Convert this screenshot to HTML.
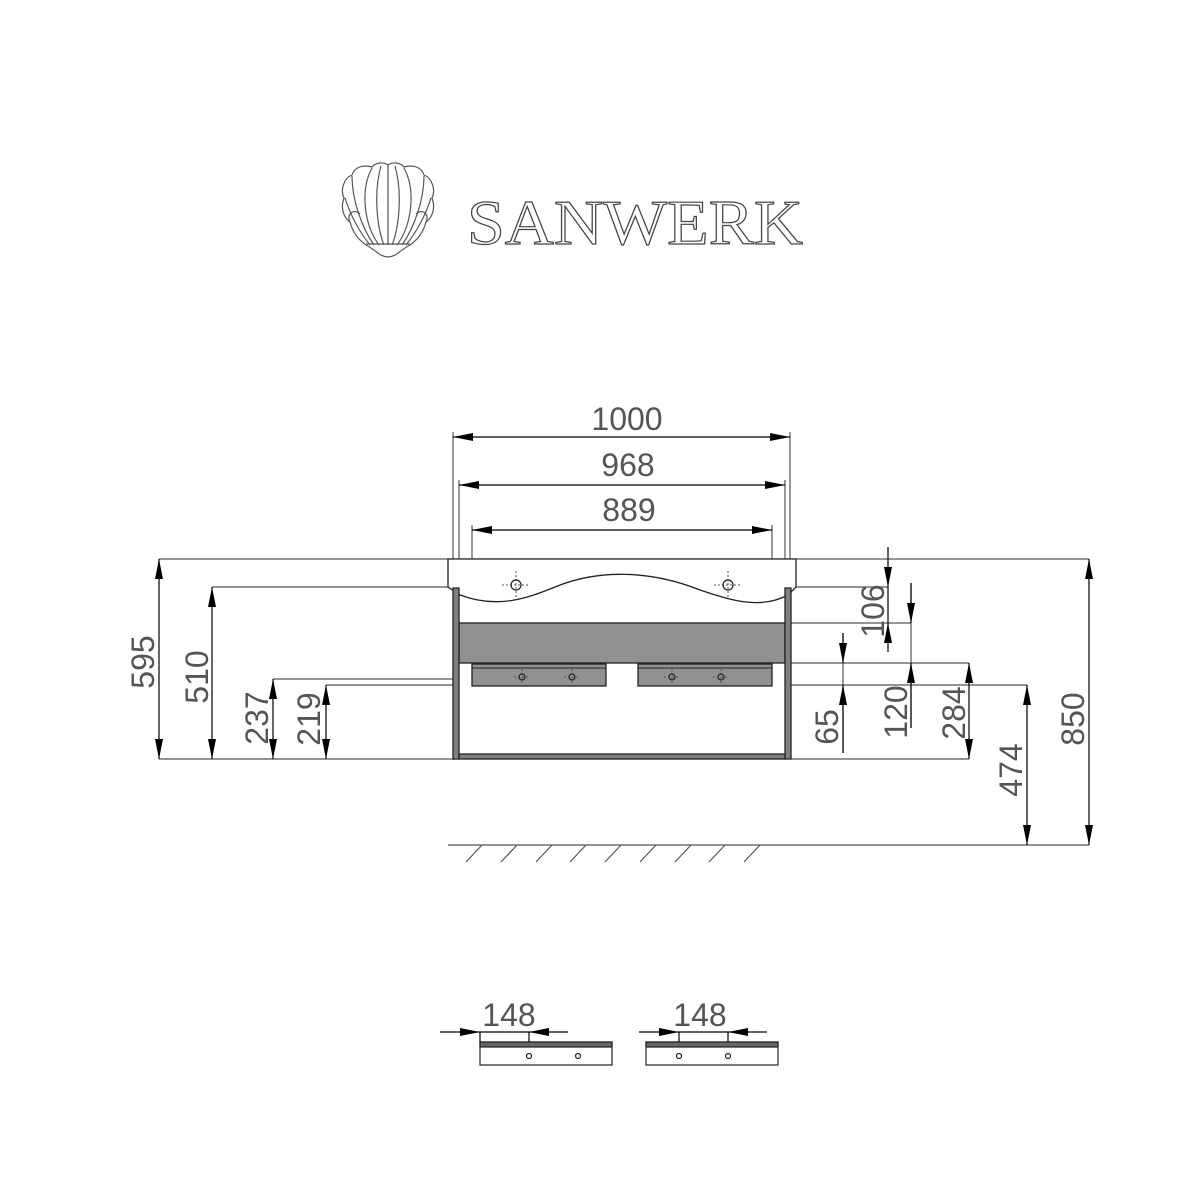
<!DOCTYPE html>
<html><head><meta charset="utf-8"><style>
html,body{margin:0;padding:0;background:#fff;}
svg{display:block}
text{font-family:"Liberation Sans",sans-serif;fill:#555;font-size:32px}
</style></head><body>
<svg width="1198" height="1199" viewBox="0 0 1198 1199" xmlns="http://www.w3.org/2000/svg">
<defs>
<marker id="a" viewBox="0 0 20 8" refX="20" refY="4" markerWidth="20" markerHeight="8" markerUnits="userSpaceOnUse" orient="auto-start-reverse"><path d="M0,0 L20,4 L0,8Z" fill="#000"/></marker>
</defs>
<g fill="none" stroke="#555" stroke-width="1.2">
<path d="M388,257 C380,257 376,250 366,245 C356,238 352,230 350,222 C344,218 340,208 344,198 C340,190 344,178 352,175 C354,168 362,164 372,167 C376,162 384,162 388,165 C392,162 400,162 404,167 C414,164 422,168 424,175 C432,178 436,190 432,198 C436,208 432,218 426,222 C424,230 420,238 410,245 C400,250 396,257 388,257Z"/>
<path d="M388,165 L388,245 M381,166 C374,190 376,225 384,245 M395,166 C402,190 400,225 392,245 M372,168 C360,190 364,225 379,245 M404,168 C416,190 412,225 397,245 M352,176 C352,200 362,228 374,245 M424,176 C424,200 414,228 402,245 M345,198 C352,220 362,235 370,245 M431,198 C424,220 414,235 406,245 M350,222 C346,214 354,208 360,214 M426,222 C430,214 422,208 416,214 M366,244 L410,244"/>
</g>
<text x="467" y="244" style="font-family:'Liberation Serif',serif;font-size:64px;fill:#fff;stroke:#444;stroke-width:1.2" textLength="336" lengthAdjust="spacingAndGlyphs">SANWERK</text>

<g stroke="#555" stroke-width="1.2" fill="none">
<path d="M453,432V559 M790,432V559 M459,480V559 M785,480V559 M472,525V559 M772,525V559"/>
<path d="M159,559H1089 M212,587H455 M273,679H455 M326,685H455"/>
<path d="M791,587H888 M785,623H911 M785,663H969 M785,685H1027 M159,759H455 M791,759H969"/>
<path d="M448,845H1089"/>
<path d="M482,845L466,862 M517,845L501,862 M552,845L536,862 M586,845L570,862 M621,845L605,862 M656,845L640,862 M691,845L675,862 M725,845L709,862 M760,845L744,862"/>
<path d="M911,583V728 M843,633V753"/>
</g>
<g stroke="#000" stroke-width="1.2" fill="none">
<line x1="453" y1="437" x2="790" y2="437" marker-start="url(#a)" marker-end="url(#a)"/>
<line x1="459" y1="485" x2="785" y2="485" marker-start="url(#a)" marker-end="url(#a)"/>
<line x1="472" y1="530" x2="772" y2="530" marker-start="url(#a)" marker-end="url(#a)"/>
<line x1="159" y1="559" x2="159" y2="759" marker-start="url(#a)" marker-end="url(#a)"/>
<line x1="212" y1="587" x2="212" y2="759" marker-start="url(#a)" marker-end="url(#a)"/>
<line x1="273" y1="679" x2="273" y2="759" marker-start="url(#a)" marker-end="url(#a)"/>
<line x1="326" y1="685" x2="326" y2="759" marker-start="url(#a)" marker-end="url(#a)"/>
<line x1="888" y1="547" x2="888" y2="587" marker-end="url(#a)"/>
<line x1="888" y1="652" x2="888" y2="623" marker-end="url(#a)"/>
<line x1="888" y1="587" x2="888" y2="623"/>
<line x1="911" y1="583" x2="911" y2="623" marker-end="url(#a)"/>
<line x1="911" y1="728" x2="911" y2="663" marker-end="url(#a)"/>
<line x1="843" y1="633" x2="843" y2="663" marker-end="url(#a)"/>
<line x1="843" y1="753" x2="843" y2="685" marker-end="url(#a)"/>
<line x1="969" y1="663" x2="969" y2="759" marker-start="url(#a)" marker-end="url(#a)"/>
<line x1="1027" y1="685" x2="1027" y2="845" marker-start="url(#a)" marker-end="url(#a)"/>
<line x1="1089" y1="559" x2="1089" y2="845" marker-start="url(#a)" marker-end="url(#a)"/>
</g>
<g stroke="#222" stroke-width="1.3">
<path d="M448,559 H796 V587 L788,595 C760,610 730,600 700,590 C650,570 600,570 560,585 C530,597 500,610 460,595 L448,587Z" fill="#fff"/>
<rect x="459" y="623" width="326" height="40" fill="#919191"/>
<rect x="453" y="588" width="6" height="171" fill="#808080"/>
<rect x="785" y="588" width="6" height="171" fill="#808080"/>
<rect x="459" y="754" width="326" height="5" fill="#808080"/>
<rect x="472" y="664" width="134" height="22" fill="#919191"/>
<rect x="638" y="664" width="134" height="22" fill="#919191"/>
<path d="M472,668H606 M638,668H772" stroke-width="1"/>
</g>
<g stroke="#555" stroke-width="1" stroke-dasharray="2,2">
<path d="M502,585H530 M516,571V599 M714,585H742 M728,571V599"/>
<path d="M514,677H530 M522,669V685 M564,677H580 M572,669V685 M664,677H680 M672,669V685 M713,677H729 M721,669V685"/>
<path d="M522,1056H536 M529,1049V1063 M571,1056H585 M578,1049V1063 M672,1056H686 M679,1049V1063 M721,1056H735 M728,1049V1063"/>
</g>
<g stroke="#222" fill="none" stroke-width="1.2">
<circle cx="516" cy="585" r="5"/><circle cx="728" cy="585" r="5"/>
<circle cx="522" cy="677" r="3"/><circle cx="572" cy="677" r="3"/><circle cx="672" cy="677" r="3"/><circle cx="721" cy="677" r="3"/>
</g>
<text x="627" y="430" text-anchor="middle">1000</text>
<text x="628" y="476" text-anchor="middle">968</text>
<text x="629" y="521" text-anchor="middle">889</text>
<text transform="translate(154,662) rotate(-90)" text-anchor="middle">595</text>
<text transform="translate(208,677) rotate(-90)" text-anchor="middle">510</text>
<text transform="translate(268,718) rotate(-90)" text-anchor="middle">237</text>
<text transform="translate(320,719) rotate(-90)" text-anchor="middle">219</text>
<text transform="translate(884,611) rotate(-90)" text-anchor="middle">106</text>
<text transform="translate(907,712) rotate(-90)" text-anchor="middle">120</text>
<text transform="translate(838,727) rotate(-90)" text-anchor="middle">65</text>
<text transform="translate(965,713) rotate(-90)" text-anchor="middle">284</text>
<text transform="translate(1022,770) rotate(-90)" text-anchor="middle">474</text>
<text transform="translate(1084,719) rotate(-90)" text-anchor="middle">850</text>
<g stroke="#222" stroke-width="1.2">
<rect x="480" y="1042" width="132" height="23" fill="#fff"/>
<rect x="480" y="1042" width="132" height="5" fill="#666"/>
<rect x="646" y="1042" width="132" height="23" fill="#fff"/>
<rect x="646" y="1042" width="132" height="5" fill="#666"/>
<circle cx="529" cy="1056" r="2.5" fill="none"/><circle cx="578" cy="1056" r="2.5" fill="none"/>
<circle cx="679" cy="1056" r="2.5" fill="none"/><circle cx="728" cy="1056" r="2.5" fill="none"/>
</g>
<g stroke="#000" stroke-width="1.2" fill="none">
<path d="M480,1032V1042 M529,1032V1042 M679,1032V1042 M728,1032V1042 M480,1032H529 M679,1032H728"/>
<line x1="440" y1="1032" x2="480" y2="1032" marker-end="url(#a)"/>
<line x1="568" y1="1032" x2="529" y2="1032" marker-end="url(#a)"/>
<line x1="639" y1="1032" x2="679" y2="1032" marker-end="url(#a)"/>
<line x1="767" y1="1032" x2="728" y2="1032" marker-end="url(#a)"/>
</g>
<text x="509" y="1026" text-anchor="middle">148</text>
<text x="700" y="1026" text-anchor="middle">148</text>
</svg>
</body></html>
